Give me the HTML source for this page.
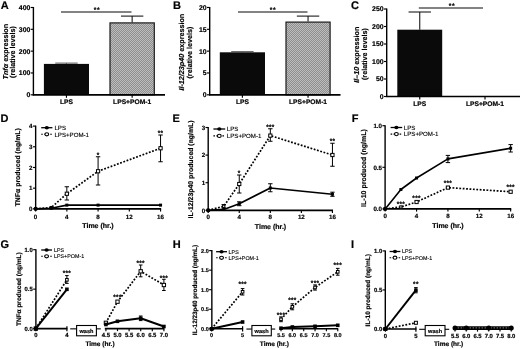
<!DOCTYPE html>
<html lang="en">
<head>
<meta charset="utf-8">
<title>Figure</title>
<style>
html,body{margin:0;padding:0;background:#fff;}
body{width:520px;height:349px;overflow:hidden;}
svg{display:block;font-family:'Liberation Sans', Arial, sans-serif;}
</style>
</head>
<body>
<svg width="520" height="349" viewBox="0 0 520 349" fill="#000" text-rendering="geometricPrecision">
<defs>
<pattern id="hatch" patternUnits="userSpaceOnUse" width="2" height="2">
<rect width="2" height="2" fill="#bdbdbd"/>
<rect x="0" y="1" width="1" height="1" fill="#8e8e8e"/>
<rect x="1" y="0" width="1" height="1" fill="#8e8e8e"/>
</pattern>
</defs>
<rect width="520" height="349" fill="#fff"/>
<text x="0.70" y="8.70" font-size="11" text-anchor="start" font-weight="bold" stroke="#000" stroke-width="0.18">A</text>
<text x="7.80" y="51.65" font-size="7.2" text-anchor="middle" font-weight="bold" stroke="#000" stroke-width="0.18" transform="rotate(-90 7.80 51.65)"><tspan font-style="italic">Tnf&#945;</tspan> expression</text>
<text x="15.20" y="52.05" font-size="7.2" text-anchor="middle" font-weight="bold" stroke="#000" stroke-width="0.18" transform="rotate(-90 15.20 52.05)">(relative levels)</text>
<line x1="66.45" y1="63.90" x2="66.45" y2="63.10" stroke="#666" stroke-width="1.1"/>
<line x1="55.25" y1="63.10" x2="77.65" y2="63.10" stroke="#666" stroke-width="1.1"/>
<rect x="43.90" y="63.90" width="45.10" height="30.90" fill="#0a0a0a"/>
<line x1="66.45" y1="94.80" x2="66.45" y2="97.80" stroke="#000" stroke-width="1.15"/>
<text x="66.45" y="103.50" font-size="6.7" text-anchor="middle" font-weight="bold" stroke="#000" stroke-width="0.18">LPS</text>
<line x1="132.15" y1="22.40" x2="132.15" y2="16.10" stroke="#1a1a1a" stroke-width="1.1"/>
<line x1="120.95" y1="16.10" x2="143.35" y2="16.10" stroke="#1a1a1a" stroke-width="1.1"/>
<rect x="110.00" y="22.90" width="44.30" height="71.90" fill="url(#hatch)" stroke="#1c1c1c" stroke-width="1.2"/>
<line x1="132.15" y1="94.80" x2="132.15" y2="97.80" stroke="#000" stroke-width="1.15"/>
<text x="132.15" y="103.50" font-size="6.7" text-anchor="middle" font-weight="bold" stroke="#000" stroke-width="0.18">LPS+POM-1</text>
<line x1="33.40" y1="7.00" x2="33.40" y2="95.35" stroke="#000" stroke-width="1.4"/>
<line x1="32.70" y1="94.80" x2="165.00" y2="94.80" stroke="#000" stroke-width="1.7"/>
<line x1="30.70" y1="94.80" x2="33.40" y2="94.80" stroke="#000" stroke-width="1.15"/>
<text x="30.30" y="97.28" font-size="6.9" text-anchor="end" font-weight="bold" stroke="#000" stroke-width="0.18">0</text>
<line x1="30.70" y1="72.97" x2="33.40" y2="72.97" stroke="#000" stroke-width="1.15"/>
<text x="30.30" y="75.45" font-size="6.9" text-anchor="end" font-weight="bold" stroke="#000" stroke-width="0.18">100</text>
<line x1="30.70" y1="51.14" x2="33.40" y2="51.14" stroke="#000" stroke-width="1.15"/>
<text x="30.30" y="53.62" font-size="6.9" text-anchor="end" font-weight="bold" stroke="#000" stroke-width="0.18">200</text>
<line x1="30.70" y1="29.31" x2="33.40" y2="29.31" stroke="#000" stroke-width="1.15"/>
<text x="30.30" y="31.79" font-size="6.9" text-anchor="end" font-weight="bold" stroke="#000" stroke-width="0.18">300</text>
<line x1="30.70" y1="7.48" x2="33.40" y2="7.48" stroke="#000" stroke-width="1.15"/>
<text x="30.30" y="9.96" font-size="6.9" text-anchor="end" font-weight="bold" stroke="#000" stroke-width="0.18">400</text>
<line x1="61.00" y1="12.00" x2="131.50" y2="12.00" stroke="#5a5a5a" stroke-width="1.6"/>
<text x="97.10" y="11.94" font-size="6.8" text-anchor="middle" font-weight="bold" letter-spacing="0.6" stroke="#000" stroke-width="0.2">**</text>
<text x="173.00" y="8.70" font-size="11" text-anchor="start" font-weight="bold" stroke="#000" stroke-width="0.18">B</text>
<text x="183.60" y="52.15" font-size="7.2" text-anchor="middle" font-weight="bold" stroke="#000" stroke-width="0.18" transform="rotate(-90 183.60 52.15)"><tspan font-style="italic">Il-12/23p40</tspan> expression</text>
<text x="191.60" y="52.55" font-size="7.2" text-anchor="middle" font-weight="bold" stroke="#000" stroke-width="0.18" transform="rotate(-90 191.60 52.55)">(relative levels)</text>
<line x1="242.40" y1="52.30" x2="242.40" y2="51.60" stroke="#666" stroke-width="1.1"/>
<line x1="231.20" y1="51.60" x2="253.60" y2="51.60" stroke="#666" stroke-width="1.1"/>
<rect x="219.80" y="52.30" width="45.20" height="42.50" fill="#0a0a0a"/>
<line x1="242.40" y1="94.80" x2="242.40" y2="97.80" stroke="#000" stroke-width="1.15"/>
<text x="242.40" y="103.50" font-size="6.7" text-anchor="middle" font-weight="bold" stroke="#000" stroke-width="0.18">LPS</text>
<line x1="308.05" y1="21.60" x2="308.05" y2="16.10" stroke="#1a1a1a" stroke-width="1.1"/>
<line x1="296.85" y1="16.10" x2="319.25" y2="16.10" stroke="#1a1a1a" stroke-width="1.1"/>
<rect x="286.00" y="22.10" width="44.10" height="72.70" fill="url(#hatch)" stroke="#1c1c1c" stroke-width="1.2"/>
<line x1="308.05" y1="94.80" x2="308.05" y2="97.80" stroke="#000" stroke-width="1.15"/>
<text x="308.05" y="103.50" font-size="6.7" text-anchor="middle" font-weight="bold" stroke="#000" stroke-width="0.18">LPS+POM-1</text>
<line x1="209.70" y1="7.00" x2="209.70" y2="95.35" stroke="#000" stroke-width="1.4"/>
<line x1="209.00" y1="94.80" x2="340.50" y2="94.80" stroke="#000" stroke-width="1.7"/>
<line x1="207.00" y1="94.80" x2="209.70" y2="94.80" stroke="#000" stroke-width="1.15"/>
<text x="206.60" y="97.28" font-size="6.9" text-anchor="end" font-weight="bold" stroke="#000" stroke-width="0.18">0</text>
<line x1="207.00" y1="72.97" x2="209.70" y2="72.97" stroke="#000" stroke-width="1.15"/>
<text x="206.60" y="75.45" font-size="6.9" text-anchor="end" font-weight="bold" stroke="#000" stroke-width="0.18">5</text>
<line x1="207.00" y1="51.14" x2="209.70" y2="51.14" stroke="#000" stroke-width="1.15"/>
<text x="206.60" y="53.62" font-size="6.9" text-anchor="end" font-weight="bold" stroke="#000" stroke-width="0.18">10</text>
<line x1="207.00" y1="29.31" x2="209.70" y2="29.31" stroke="#000" stroke-width="1.15"/>
<text x="206.60" y="31.79" font-size="6.9" text-anchor="end" font-weight="bold" stroke="#000" stroke-width="0.18">15</text>
<line x1="207.00" y1="7.48" x2="209.70" y2="7.48" stroke="#000" stroke-width="1.15"/>
<text x="206.60" y="9.96" font-size="6.9" text-anchor="end" font-weight="bold" stroke="#000" stroke-width="0.18">20</text>
<line x1="238.00" y1="12.00" x2="307.50" y2="12.00" stroke="#5a5a5a" stroke-width="1.6"/>
<text x="273.10" y="11.94" font-size="6.8" text-anchor="middle" font-weight="bold" letter-spacing="0.6" stroke="#000" stroke-width="0.2">**</text>
<text x="351.00" y="9.00" font-size="11" text-anchor="start" font-weight="bold" stroke="#000" stroke-width="0.18">C</text>
<text x="359.10" y="54.65" font-size="7.2" text-anchor="middle" font-weight="bold" stroke="#000" stroke-width="0.18" transform="rotate(-90 359.10 54.65)"><tspan font-style="italic">Il&#8211;10</tspan> expression</text>
<text x="367.50" y="54.05" font-size="7.2" text-anchor="middle" font-weight="bold" stroke="#000" stroke-width="0.18" transform="rotate(-90 367.50 54.05)">(relative levels)</text>
<line x1="419.75" y1="29.70" x2="419.75" y2="12.00" stroke="#1a1a1a" stroke-width="1.1"/>
<line x1="408.55" y1="12.00" x2="430.95" y2="12.00" stroke="#1a1a1a" stroke-width="1.1"/>
<rect x="397.30" y="29.70" width="44.90" height="66.80" fill="#0a0a0a"/>
<line x1="419.75" y1="96.50" x2="419.75" y2="99.50" stroke="#000" stroke-width="1.15"/>
<text x="419.75" y="105.60" font-size="6.7" text-anchor="middle" font-weight="bold" stroke="#000" stroke-width="0.18">LPS</text>
<line x1="485.00" y1="96.50" x2="485.00" y2="99.50" stroke="#000" stroke-width="1.15"/>
<text x="485.00" y="105.60" font-size="6.7" text-anchor="middle" font-weight="bold" stroke="#000" stroke-width="0.18">LPS+POM-1</text>
<line x1="386.70" y1="8.50" x2="386.70" y2="97.05" stroke="#000" stroke-width="1.4"/>
<line x1="386.00" y1="96.50" x2="520.00" y2="96.50" stroke="#000" stroke-width="1.7"/>
<line x1="384.00" y1="96.50" x2="386.70" y2="96.50" stroke="#000" stroke-width="1.15"/>
<text x="383.60" y="98.98" font-size="6.9" text-anchor="end" font-weight="bold" stroke="#000" stroke-width="0.18">0</text>
<line x1="384.00" y1="79.00" x2="386.70" y2="79.00" stroke="#000" stroke-width="1.15"/>
<text x="383.60" y="81.48" font-size="6.9" text-anchor="end" font-weight="bold" stroke="#000" stroke-width="0.18">50</text>
<line x1="384.00" y1="61.50" x2="386.70" y2="61.50" stroke="#000" stroke-width="1.15"/>
<text x="383.60" y="63.98" font-size="6.9" text-anchor="end" font-weight="bold" stroke="#000" stroke-width="0.18">100</text>
<line x1="384.00" y1="44.00" x2="386.70" y2="44.00" stroke="#000" stroke-width="1.15"/>
<text x="383.60" y="46.48" font-size="6.9" text-anchor="end" font-weight="bold" stroke="#000" stroke-width="0.18">150</text>
<line x1="384.00" y1="26.50" x2="386.70" y2="26.50" stroke="#000" stroke-width="1.15"/>
<text x="383.60" y="28.98" font-size="6.9" text-anchor="end" font-weight="bold" stroke="#000" stroke-width="0.18">200</text>
<line x1="384.00" y1="9.00" x2="386.70" y2="9.00" stroke="#000" stroke-width="1.15"/>
<text x="383.60" y="11.48" font-size="6.9" text-anchor="end" font-weight="bold" stroke="#000" stroke-width="0.18">250</text>
<line x1="418.80" y1="8.00" x2="483.00" y2="8.00" stroke="#5a5a5a" stroke-width="1.6"/>
<text x="452.10" y="7.84" font-size="6.8" text-anchor="middle" font-weight="bold" letter-spacing="0.6" stroke="#000" stroke-width="0.2">**</text>
<text x="0.50" y="121.70" font-size="11" text-anchor="start" font-weight="bold" stroke="#000" stroke-width="0.18">D</text>
<text x="20.00" y="167.30" font-size="6.9" text-anchor="middle" font-weight="bold" stroke="#000" stroke-width="0.18" transform="rotate(-90 20.00 167.30)">TNF&#945; produced (ng/mL)</text>
<line x1="35.65" y1="125.60" x2="35.65" y2="209.40" stroke="#000" stroke-width="1.4"/>
<line x1="34.95" y1="208.85" x2="161.16" y2="208.85" stroke="#000" stroke-width="1.7"/>
<line x1="32.95" y1="208.85" x2="35.65" y2="208.85" stroke="#000" stroke-width="1.15"/>
<text x="32.55" y="211.08" font-size="6.2" text-anchor="end" font-weight="bold" stroke="#000" stroke-width="0.18">0</text>
<line x1="32.95" y1="188.16" x2="35.65" y2="188.16" stroke="#000" stroke-width="1.15"/>
<text x="32.55" y="190.39" font-size="6.2" text-anchor="end" font-weight="bold" stroke="#000" stroke-width="0.18">1</text>
<line x1="32.95" y1="167.47" x2="35.65" y2="167.47" stroke="#000" stroke-width="1.15"/>
<text x="32.55" y="169.70" font-size="6.2" text-anchor="end" font-weight="bold" stroke="#000" stroke-width="0.18">2</text>
<line x1="32.95" y1="146.78" x2="35.65" y2="146.78" stroke="#000" stroke-width="1.15"/>
<text x="32.55" y="149.01" font-size="6.2" text-anchor="end" font-weight="bold" stroke="#000" stroke-width="0.18">3</text>
<line x1="32.95" y1="126.09" x2="35.65" y2="126.09" stroke="#000" stroke-width="1.15"/>
<text x="32.55" y="128.32" font-size="6.2" text-anchor="end" font-weight="bold" stroke="#000" stroke-width="0.18">4</text>
<line x1="35.60" y1="208.85" x2="35.60" y2="211.55" stroke="#000" stroke-width="1.15"/>
<text x="35.60" y="218.50" font-size="6.2" text-anchor="middle" font-weight="bold" stroke="#000" stroke-width="0.18">0</text>
<line x1="66.84" y1="208.85" x2="66.84" y2="211.55" stroke="#000" stroke-width="1.15"/>
<text x="66.84" y="218.50" font-size="6.2" text-anchor="middle" font-weight="bold" stroke="#000" stroke-width="0.18">4</text>
<line x1="98.08" y1="208.85" x2="98.08" y2="211.55" stroke="#000" stroke-width="1.15"/>
<text x="98.08" y="218.50" font-size="6.2" text-anchor="middle" font-weight="bold" stroke="#000" stroke-width="0.18">8</text>
<line x1="129.32" y1="208.85" x2="129.32" y2="211.55" stroke="#000" stroke-width="1.15"/>
<text x="129.32" y="218.50" font-size="6.2" text-anchor="middle" font-weight="bold" stroke="#000" stroke-width="0.18">12</text>
<line x1="160.56" y1="208.85" x2="160.56" y2="211.55" stroke="#000" stroke-width="1.15"/>
<text x="160.56" y="218.50" font-size="6.2" text-anchor="middle" font-weight="bold" stroke="#000" stroke-width="0.18">16</text>
<text x="98.00" y="227.90" font-size="7.0" text-anchor="middle" font-weight="bold" stroke="#000" stroke-width="0.18">Time (hr.)</text>
<polyline points="35.60,208.85 51.22,207.61 66.84,193.75 98.08,171.25 160.56,148.25" fill="none" stroke="#000" stroke-width="1.7" stroke-linejoin="round" stroke-dasharray="1.8 1.6"/>
<polyline points="35.60,208.85 51.22,208.23 66.84,205.13 98.08,205.13 160.56,205.13" fill="none" stroke="#000" stroke-width="1.6" stroke-linejoin="round"/>
<line x1="66.84" y1="186.75" x2="66.84" y2="200.00" stroke="#000" stroke-width="1.0"/>
<line x1="64.64" y1="186.75" x2="69.04" y2="186.75" stroke="#000" stroke-width="1.0"/>
<line x1="64.64" y1="200.00" x2="69.04" y2="200.00" stroke="#000" stroke-width="1.0"/>
<line x1="98.08" y1="156.75" x2="98.08" y2="185.00" stroke="#000" stroke-width="1.0"/>
<line x1="95.88" y1="156.75" x2="100.28" y2="156.75" stroke="#000" stroke-width="1.0"/>
<line x1="95.88" y1="185.00" x2="100.28" y2="185.00" stroke="#000" stroke-width="1.0"/>
<line x1="160.56" y1="135.00" x2="160.56" y2="161.75" stroke="#000" stroke-width="1.0"/>
<line x1="158.36" y1="135.00" x2="162.76" y2="135.00" stroke="#000" stroke-width="1.0"/>
<line x1="158.36" y1="161.75" x2="162.76" y2="161.75" stroke="#000" stroke-width="1.0"/>
<rect x="50.07" y="206.46" width="2.30" height="2.30" fill="#fff" stroke="#000" stroke-width="1.0"/>
<rect x="65.24" y="192.15" width="3.20" height="3.20" fill="#fff" stroke="#000" stroke-width="1.0"/>
<rect x="96.48" y="169.65" width="3.20" height="3.20" fill="#fff" stroke="#000" stroke-width="1.0"/>
<text x="98.08" y="156.93" font-size="6.4" text-anchor="middle" font-weight="bold" letter-spacing="0.3" stroke="#000" stroke-width="0.2">*</text>
<rect x="158.96" y="146.65" width="3.20" height="3.20" fill="#fff" stroke="#000" stroke-width="1.0"/>
<text x="160.56" y="134.53" font-size="6.4" text-anchor="middle" font-weight="bold" letter-spacing="0.3" stroke="#000" stroke-width="0.2">**</text>
<rect x="34.10" y="207.35" width="3.00" height="3.00" fill="#000"/>
<rect x="49.72" y="206.73" width="3.00" height="3.00" fill="#000"/>
<rect x="65.34" y="203.63" width="3.00" height="3.00" fill="#000"/>
<rect x="96.58" y="203.63" width="3.00" height="3.00" fill="#000"/>
<rect x="159.06" y="203.63" width="3.00" height="3.00" fill="#000"/>
<circle cx="35.65" cy="208.85" r="2.1" fill="#000"/>
<line x1="41.20" y1="127.70" x2="52.40" y2="127.70" stroke="#000" stroke-width="1.3"/>
<ellipse cx="46.80" cy="127.70" rx="2.1" ry="1.7" fill="#000"/>
<text x="54.40" y="129.91" font-size="6.15" text-anchor="start" stroke="#000" stroke-width="0.12">LPS</text>
<line x1="41.20" y1="134.30" x2="52.40" y2="134.30" stroke="#000" stroke-width="1.1" stroke-dasharray="1.6 1.4"/>
<ellipse cx="46.80" cy="134.30" rx="1.9" ry="1.6" fill="#fff" stroke="#000" stroke-width="1.1"/>
<text x="54.40" y="136.51" font-size="6.15" text-anchor="start" stroke="#000" stroke-width="0.12">LPS+POM-1</text>
<text x="172.50" y="122.10" font-size="11" text-anchor="start" font-weight="bold" stroke="#000" stroke-width="0.18">E</text>
<text x="192.90" y="169.40" font-size="6.9" text-anchor="middle" font-weight="bold" stroke="#000" stroke-width="0.18" transform="rotate(-90 192.90 169.40)">IL-12/23p40 produced (ng/mL)</text>
<line x1="208.20" y1="127.00" x2="208.20" y2="210.85" stroke="#000" stroke-width="1.4"/>
<line x1="207.50" y1="210.30" x2="333.04" y2="210.30" stroke="#000" stroke-width="1.7"/>
<line x1="205.50" y1="210.30" x2="208.20" y2="210.30" stroke="#000" stroke-width="1.15"/>
<text x="205.10" y="212.53" font-size="6.2" text-anchor="end" font-weight="bold" stroke="#000" stroke-width="0.18">0</text>
<line x1="205.50" y1="182.70" x2="208.20" y2="182.70" stroke="#000" stroke-width="1.15"/>
<text x="205.10" y="184.93" font-size="6.2" text-anchor="end" font-weight="bold" stroke="#000" stroke-width="0.18">1</text>
<line x1="205.50" y1="155.10" x2="208.20" y2="155.10" stroke="#000" stroke-width="1.15"/>
<text x="205.10" y="157.33" font-size="6.2" text-anchor="end" font-weight="bold" stroke="#000" stroke-width="0.18">2</text>
<line x1="205.50" y1="127.50" x2="208.20" y2="127.50" stroke="#000" stroke-width="1.15"/>
<text x="205.10" y="129.73" font-size="6.2" text-anchor="end" font-weight="bold" stroke="#000" stroke-width="0.18">3</text>
<line x1="208.20" y1="210.30" x2="208.20" y2="213.00" stroke="#000" stroke-width="1.15"/>
<text x="208.20" y="219.00" font-size="6.2" text-anchor="middle" font-weight="bold" stroke="#000" stroke-width="0.18">0</text>
<line x1="239.26" y1="210.30" x2="239.26" y2="213.00" stroke="#000" stroke-width="1.15"/>
<text x="239.26" y="219.00" font-size="6.2" text-anchor="middle" font-weight="bold" stroke="#000" stroke-width="0.18">4</text>
<line x1="270.32" y1="210.30" x2="270.32" y2="213.00" stroke="#000" stroke-width="1.15"/>
<text x="270.32" y="219.00" font-size="6.2" text-anchor="middle" font-weight="bold" stroke="#000" stroke-width="0.18">8</text>
<line x1="301.38" y1="210.30" x2="301.38" y2="213.00" stroke="#000" stroke-width="1.15"/>
<text x="301.38" y="219.00" font-size="6.2" text-anchor="middle" font-weight="bold" stroke="#000" stroke-width="0.18">12</text>
<line x1="332.44" y1="210.30" x2="332.44" y2="213.00" stroke="#000" stroke-width="1.15"/>
<text x="332.44" y="219.00" font-size="6.2" text-anchor="middle" font-weight="bold" stroke="#000" stroke-width="0.18">16</text>
<text x="270.50" y="228.70" font-size="7.0" text-anchor="middle" font-weight="bold" stroke="#000" stroke-width="0.18">Time (hr.)</text>
<polyline points="208.20,210.30 223.73,206.25 239.26,184.00 270.32,135.60 332.44,155.00" fill="none" stroke="#000" stroke-width="1.7" stroke-linejoin="round" stroke-dasharray="1.8 1.6"/>
<polyline points="208.20,210.30 223.73,209.47 239.26,203.75 270.32,188.00 332.44,194.25" fill="none" stroke="#000" stroke-width="1.7" stroke-linejoin="round"/>
<line x1="223.73" y1="204.60" x2="223.73" y2="207.90" stroke="#000" stroke-width="1.0"/>
<line x1="221.53" y1="204.60" x2="225.93" y2="204.60" stroke="#000" stroke-width="1.0"/>
<line x1="221.53" y1="207.90" x2="225.93" y2="207.90" stroke="#000" stroke-width="1.0"/>
<line x1="239.26" y1="175.00" x2="239.26" y2="193.00" stroke="#000" stroke-width="1.0"/>
<line x1="237.06" y1="175.00" x2="241.46" y2="175.00" stroke="#000" stroke-width="1.0"/>
<line x1="237.06" y1="193.00" x2="241.46" y2="193.00" stroke="#000" stroke-width="1.0"/>
<line x1="270.32" y1="128.75" x2="270.32" y2="141.25" stroke="#000" stroke-width="1.0"/>
<line x1="268.12" y1="128.75" x2="272.52" y2="128.75" stroke="#000" stroke-width="1.0"/>
<line x1="268.12" y1="141.25" x2="272.52" y2="141.25" stroke="#000" stroke-width="1.0"/>
<line x1="332.44" y1="143.25" x2="332.44" y2="166.25" stroke="#000" stroke-width="1.0"/>
<line x1="330.24" y1="143.25" x2="334.64" y2="143.25" stroke="#000" stroke-width="1.0"/>
<line x1="330.24" y1="166.25" x2="334.64" y2="166.25" stroke="#000" stroke-width="1.0"/>
<line x1="239.26" y1="201.80" x2="239.26" y2="205.70" stroke="#000" stroke-width="1.0"/>
<line x1="237.06" y1="201.80" x2="241.46" y2="201.80" stroke="#000" stroke-width="1.0"/>
<line x1="237.06" y1="205.70" x2="241.46" y2="205.70" stroke="#000" stroke-width="1.0"/>
<line x1="270.32" y1="183.75" x2="270.32" y2="191.75" stroke="#000" stroke-width="1.0"/>
<line x1="268.12" y1="183.75" x2="272.52" y2="183.75" stroke="#000" stroke-width="1.0"/>
<line x1="268.12" y1="191.75" x2="272.52" y2="191.75" stroke="#000" stroke-width="1.0"/>
<line x1="332.44" y1="192.20" x2="332.44" y2="196.30" stroke="#000" stroke-width="1.0"/>
<line x1="330.24" y1="192.20" x2="334.64" y2="192.20" stroke="#000" stroke-width="1.0"/>
<line x1="330.24" y1="196.30" x2="334.64" y2="196.30" stroke="#000" stroke-width="1.0"/>
<rect x="222.58" y="205.10" width="2.30" height="2.30" fill="#fff" stroke="#000" stroke-width="1.0"/>
<rect x="237.66" y="182.40" width="3.20" height="3.20" fill="#fff" stroke="#000" stroke-width="1.0"/>
<text x="239.26" y="175.13" font-size="6.4" text-anchor="middle" font-weight="bold" letter-spacing="0.3" stroke="#000" stroke-width="0.2">*</text>
<rect x="268.72" y="134.00" width="3.20" height="3.20" fill="#fff" stroke="#000" stroke-width="1.0"/>
<text x="270.32" y="129.13" font-size="6.4" text-anchor="middle" font-weight="bold" letter-spacing="0.3" stroke="#000" stroke-width="0.2">***</text>
<rect x="330.84" y="153.40" width="3.20" height="3.20" fill="#fff" stroke="#000" stroke-width="1.0"/>
<text x="332.44" y="143.13" font-size="6.4" text-anchor="middle" font-weight="bold" letter-spacing="0.3" stroke="#000" stroke-width="0.2">**</text>
<rect x="206.70" y="208.80" width="3.00" height="3.00" fill="#000"/>
<rect x="222.23" y="207.97" width="3.00" height="3.00" fill="#000"/>
<rect x="237.76" y="202.25" width="3.00" height="3.00" fill="#000"/>
<rect x="268.82" y="186.50" width="3.00" height="3.00" fill="#000"/>
<rect x="330.94" y="192.75" width="3.00" height="3.00" fill="#000"/>
<circle cx="208.20" cy="210.30" r="2.1" fill="#000"/>
<line x1="213.40" y1="129.00" x2="225.20" y2="129.00" stroke="#000" stroke-width="1.3"/>
<ellipse cx="219.30" cy="129.00" rx="2.1" ry="1.7" fill="#000"/>
<text x="226.80" y="131.21" font-size="6.15" text-anchor="start" stroke="#000" stroke-width="0.12">LPS</text>
<line x1="213.40" y1="135.90" x2="225.20" y2="135.90" stroke="#000" stroke-width="1.1" stroke-dasharray="1.6 1.4"/>
<ellipse cx="219.30" cy="135.90" rx="1.9" ry="1.6" fill="#fff" stroke="#000" stroke-width="1.1"/>
<text x="226.80" y="138.11" font-size="6.15" text-anchor="start" stroke="#000" stroke-width="0.12">LPS+POM-1</text>
<text x="351.80" y="122.20" font-size="11" text-anchor="start" font-weight="bold" stroke="#000" stroke-width="0.18">F</text>
<text x="365.80" y="168.00" font-size="7.0" text-anchor="middle" font-weight="bold" stroke="#000" stroke-width="0.18" transform="rotate(-90 365.80 168.00)">IL-10 produced (ng/mL)</text>
<line x1="385.10" y1="125.20" x2="385.10" y2="209.45" stroke="#000" stroke-width="1.4"/>
<line x1="384.40" y1="208.90" x2="511.24" y2="208.90" stroke="#000" stroke-width="1.7"/>
<line x1="382.40" y1="208.90" x2="385.10" y2="208.90" stroke="#000" stroke-width="1.15"/>
<text x="382.00" y="211.13" font-size="6.2" text-anchor="end" font-weight="bold" stroke="#000" stroke-width="0.18">0.0</text>
<line x1="382.40" y1="167.30" x2="385.10" y2="167.30" stroke="#000" stroke-width="1.15"/>
<text x="382.00" y="169.53" font-size="6.2" text-anchor="end" font-weight="bold" stroke="#000" stroke-width="0.18">0.5</text>
<line x1="382.40" y1="125.70" x2="385.10" y2="125.70" stroke="#000" stroke-width="1.15"/>
<text x="382.00" y="127.93" font-size="6.2" text-anchor="end" font-weight="bold" stroke="#000" stroke-width="0.18">1.0</text>
<line x1="385.20" y1="208.90" x2="385.20" y2="211.60" stroke="#000" stroke-width="1.15"/>
<text x="385.20" y="217.90" font-size="6.2" text-anchor="middle" font-weight="bold" stroke="#000" stroke-width="0.18">0</text>
<line x1="416.56" y1="208.90" x2="416.56" y2="211.60" stroke="#000" stroke-width="1.15"/>
<text x="416.56" y="217.90" font-size="6.2" text-anchor="middle" font-weight="bold" stroke="#000" stroke-width="0.18">4</text>
<line x1="447.92" y1="208.90" x2="447.92" y2="211.60" stroke="#000" stroke-width="1.15"/>
<text x="447.92" y="217.90" font-size="6.2" text-anchor="middle" font-weight="bold" stroke="#000" stroke-width="0.18">8</text>
<line x1="479.28" y1="208.90" x2="479.28" y2="211.60" stroke="#000" stroke-width="1.15"/>
<text x="479.28" y="217.90" font-size="6.2" text-anchor="middle" font-weight="bold" stroke="#000" stroke-width="0.18">12</text>
<line x1="510.64" y1="208.90" x2="510.64" y2="211.60" stroke="#000" stroke-width="1.15"/>
<text x="510.64" y="217.90" font-size="6.2" text-anchor="middle" font-weight="bold" stroke="#000" stroke-width="0.18">16</text>
<text x="448.00" y="227.90" font-size="7.0" text-anchor="middle" font-weight="bold" stroke="#000" stroke-width="0.18">Time (hr.)</text>
<polyline points="385.20,208.90 400.88,207.00 416.56,202.00 447.92,187.60 510.64,191.75" fill="none" stroke="#000" stroke-width="1.7" stroke-linejoin="round" stroke-dasharray="1.8 1.6"/>
<polyline points="385.20,208.90 400.88,189.50 416.56,178.00 447.92,158.90 510.64,148.25" fill="none" stroke="#000" stroke-width="1.6" stroke-linejoin="round"/>
<line x1="447.92" y1="155.40" x2="447.92" y2="162.60" stroke="#000" stroke-width="1.0"/>
<line x1="445.72" y1="155.40" x2="450.12" y2="155.40" stroke="#000" stroke-width="1.0"/>
<line x1="445.72" y1="162.60" x2="450.12" y2="162.60" stroke="#000" stroke-width="1.0"/>
<line x1="510.64" y1="144.60" x2="510.64" y2="152.00" stroke="#000" stroke-width="1.0"/>
<line x1="508.44" y1="144.60" x2="512.84" y2="144.60" stroke="#000" stroke-width="1.0"/>
<line x1="508.44" y1="152.00" x2="512.84" y2="152.00" stroke="#000" stroke-width="1.0"/>
<rect x="399.73" y="205.85" width="2.30" height="2.30" fill="#fff" stroke="#000" stroke-width="1.0"/>
<text x="400.88" y="206.33" font-size="6.4" text-anchor="middle" font-weight="bold" letter-spacing="0.3" stroke="#000" stroke-width="0.2">***</text>
<rect x="414.96" y="200.40" width="3.20" height="3.20" fill="#fff" stroke="#000" stroke-width="1.0"/>
<text x="416.56" y="200.13" font-size="6.4" text-anchor="middle" font-weight="bold" letter-spacing="0.3" stroke="#000" stroke-width="0.2">***</text>
<rect x="446.32" y="186.00" width="3.20" height="3.20" fill="#fff" stroke="#000" stroke-width="1.0"/>
<text x="447.92" y="185.33" font-size="6.4" text-anchor="middle" font-weight="bold" letter-spacing="0.3" stroke="#000" stroke-width="0.2">***</text>
<rect x="509.04" y="190.15" width="3.20" height="3.20" fill="#fff" stroke="#000" stroke-width="1.0"/>
<text x="510.64" y="189.13" font-size="6.4" text-anchor="middle" font-weight="bold" letter-spacing="0.3" stroke="#000" stroke-width="0.2">***</text>
<rect x="383.70" y="207.40" width="3.00" height="3.00" fill="#000"/>
<rect x="399.38" y="188.00" width="3.00" height="3.00" fill="#000"/>
<rect x="415.06" y="176.50" width="3.00" height="3.00" fill="#000"/>
<rect x="446.42" y="157.40" width="3.00" height="3.00" fill="#000"/>
<rect x="509.14" y="146.75" width="3.00" height="3.00" fill="#000"/>
<circle cx="385.10" cy="208.90" r="2.1" fill="#000"/>
<line x1="390.60" y1="127.50" x2="402.20" y2="127.50" stroke="#000" stroke-width="1.3"/>
<ellipse cx="396.40" cy="127.50" rx="2.1" ry="1.7" fill="#000"/>
<text x="403.80" y="129.71" font-size="6.15" text-anchor="start" stroke="#000" stroke-width="0.12">LPS</text>
<line x1="390.60" y1="134.10" x2="402.20" y2="134.10" stroke="#000" stroke-width="1.1" stroke-dasharray="1.6 1.4"/>
<ellipse cx="396.40" cy="134.10" rx="1.9" ry="1.6" fill="#fff" stroke="#000" stroke-width="1.1"/>
<text x="403.80" y="136.31" font-size="6.15" text-anchor="start" stroke="#000" stroke-width="0.12">LPS+POM-1</text>
<text x="0.60" y="247.80" font-size="11" text-anchor="start" font-weight="bold" stroke="#000" stroke-width="0.18">G</text>
<text x="21.20" y="289.20" font-size="6.5" text-anchor="middle" font-weight="bold" stroke="#000" stroke-width="0.18" transform="rotate(-90 21.20 289.20)">TNF&#945; produced (ng/mL)</text>
<line x1="35.90" y1="249.20" x2="35.90" y2="329.10" stroke="#000" stroke-width="1.4"/>
<line x1="35.20" y1="328.55" x2="67.40" y2="328.55" stroke="#000" stroke-width="1.7"/>
<line x1="33.20" y1="328.60" x2="35.90" y2="328.60" stroke="#000" stroke-width="1.15"/>
<text x="32.80" y="330.72" font-size="5.9" text-anchor="end" font-weight="bold" stroke="#000" stroke-width="0.18">0.0</text>
<line x1="33.20" y1="289.15" x2="35.90" y2="289.15" stroke="#000" stroke-width="1.15"/>
<text x="32.80" y="291.27" font-size="5.9" text-anchor="end" font-weight="bold" stroke="#000" stroke-width="0.18">0.5</text>
<line x1="33.20" y1="249.70" x2="35.90" y2="249.70" stroke="#000" stroke-width="1.15"/>
<text x="32.80" y="251.82" font-size="5.9" text-anchor="end" font-weight="bold" stroke="#000" stroke-width="0.18">1.0</text>
<line x1="35.80" y1="328.55" x2="35.80" y2="331.25" stroke="#000" stroke-width="1.15"/>
<text x="35.80" y="337.40" font-size="5.9" text-anchor="middle" font-weight="bold" stroke="#000" stroke-width="0.18">0</text>
<line x1="66.90" y1="326.15" x2="66.90" y2="331.35" stroke="#000" stroke-width="1.2"/>
<text x="66.90" y="337.40" font-size="5.9" text-anchor="middle" font-weight="bold" stroke="#000" stroke-width="0.18">4</text>
<line x1="70.20" y1="328.85" x2="76.60" y2="328.85" stroke="#000" stroke-width="1.1"/>
<line x1="96.40" y1="328.85" x2="100.80" y2="328.85" stroke="#000" stroke-width="1.1"/>
<rect x="76.60" y="325.50" width="19.80" height="10.30" fill="#fff" stroke="#000" stroke-width="1.1"/>
<text x="86.50" y="332.55" font-size="5.6" text-anchor="middle" font-weight="bold" stroke="#000" stroke-width="0.18">wash</text>
<line x1="104.80" y1="328.55" x2="164.40" y2="328.55" stroke="#000" stroke-width="1.7"/>
<line x1="105.90" y1="328.55" x2="105.90" y2="331.15" stroke="#000" stroke-width="1.15"/>
<text x="105.90" y="337.40" font-size="5.9" text-anchor="middle" font-weight="bold" stroke="#000" stroke-width="0.18">4.5</text>
<line x1="117.50" y1="328.55" x2="117.50" y2="331.15" stroke="#000" stroke-width="1.15"/>
<text x="117.50" y="337.40" font-size="5.9" text-anchor="middle" font-weight="bold" stroke="#000" stroke-width="0.18">5.0</text>
<line x1="129.10" y1="328.55" x2="129.10" y2="331.15" stroke="#000" stroke-width="1.15"/>
<text x="129.10" y="337.40" font-size="5.9" text-anchor="middle" font-weight="bold" stroke="#000" stroke-width="0.18">5.5</text>
<line x1="140.70" y1="328.55" x2="140.70" y2="331.15" stroke="#000" stroke-width="1.15"/>
<text x="140.70" y="337.40" font-size="5.9" text-anchor="middle" font-weight="bold" stroke="#000" stroke-width="0.18">6.0</text>
<line x1="152.30" y1="328.55" x2="152.30" y2="331.15" stroke="#000" stroke-width="1.15"/>
<text x="152.30" y="337.40" font-size="5.9" text-anchor="middle" font-weight="bold" stroke="#000" stroke-width="0.18">6.5</text>
<line x1="163.90" y1="328.55" x2="163.90" y2="331.15" stroke="#000" stroke-width="1.15"/>
<text x="163.90" y="337.40" font-size="5.9" text-anchor="middle" font-weight="bold" stroke="#000" stroke-width="0.18">7.0</text>
<text x="100.00" y="345.60" font-size="6.5" text-anchor="middle" font-weight="bold" stroke="#000" stroke-width="0.18">Time (hr.)</text>
<polyline points="35.80,328.60 66.90,279.80" fill="none" stroke="#000" stroke-width="1.7" stroke-linejoin="round" stroke-dasharray="1.8 1.6"/>
<polyline points="35.80,328.60 66.90,289.30" fill="none" stroke="#000" stroke-width="2.0" stroke-linejoin="round"/>
<line x1="66.90" y1="275.60" x2="66.90" y2="283.40" stroke="#000" stroke-width="1.0"/>
<line x1="65.10" y1="275.60" x2="68.70" y2="275.60" stroke="#000" stroke-width="1.0"/>
<line x1="65.10" y1="283.40" x2="68.70" y2="283.40" stroke="#000" stroke-width="1.0"/>
<rect x="34.15" y="326.95" width="3.30" height="3.30" fill="#fff" stroke="#000" stroke-width="1.0"/>
<rect x="65.60" y="278.50" width="2.60" height="2.60" fill="#fff" stroke="#000" stroke-width="1.0"/>
<text x="66.90" y="275.23" font-size="6.4" text-anchor="middle" font-weight="bold" letter-spacing="0.3" stroke="#000" stroke-width="0.2">***</text>
<rect x="34.00" y="326.80" width="3.60" height="3.60" fill="#000"/>
<rect x="65.10" y="287.50" width="3.60" height="3.60" fill="#000"/>
<polyline points="105.90,322.80 117.50,301.70 140.70,271.30 163.90,285.00" fill="none" stroke="#000" stroke-width="1.7" stroke-linejoin="round" stroke-dasharray="1.8 1.6"/>
<polyline points="105.90,324.50 117.50,321.30 140.70,318.30 163.90,326.50" fill="none" stroke="#000" stroke-width="2.0" stroke-linejoin="round"/>
<line x1="140.70" y1="265.00" x2="140.70" y2="276.80" stroke="#000" stroke-width="1.0"/>
<line x1="138.90" y1="265.00" x2="142.50" y2="265.00" stroke="#000" stroke-width="1.0"/>
<line x1="138.90" y1="276.80" x2="142.50" y2="276.80" stroke="#000" stroke-width="1.0"/>
<line x1="163.90" y1="279.30" x2="163.90" y2="290.50" stroke="#000" stroke-width="1.0"/>
<line x1="162.10" y1="279.30" x2="165.70" y2="279.30" stroke="#000" stroke-width="1.0"/>
<line x1="162.10" y1="290.50" x2="165.70" y2="290.50" stroke="#000" stroke-width="1.0"/>
<line x1="140.70" y1="316.00" x2="140.70" y2="320.60" stroke="#000" stroke-width="1.0"/>
<line x1="138.90" y1="316.00" x2="142.50" y2="316.00" stroke="#000" stroke-width="1.0"/>
<line x1="138.90" y1="320.60" x2="142.50" y2="320.60" stroke="#000" stroke-width="1.0"/>
<rect x="104.25" y="321.15" width="3.30" height="3.30" fill="#fff" stroke="#000" stroke-width="1.0"/>
<rect x="115.85" y="300.05" width="3.30" height="3.30" fill="#fff" stroke="#000" stroke-width="1.0"/>
<text x="117.50" y="298.93" font-size="6.4" text-anchor="middle" font-weight="bold" letter-spacing="0.3" stroke="#000" stroke-width="0.2">***</text>
<rect x="139.05" y="269.65" width="3.30" height="3.30" fill="#fff" stroke="#000" stroke-width="1.0"/>
<text x="140.70" y="264.93" font-size="6.4" text-anchor="middle" font-weight="bold" letter-spacing="0.3" stroke="#000" stroke-width="0.2">***</text>
<rect x="162.25" y="283.35" width="3.30" height="3.30" fill="#fff" stroke="#000" stroke-width="1.0"/>
<text x="163.90" y="279.73" font-size="6.4" text-anchor="middle" font-weight="bold" letter-spacing="0.3" stroke="#000" stroke-width="0.2">***</text>
<rect x="104.10" y="322.70" width="3.60" height="3.60" fill="#000"/>
<rect x="115.70" y="319.50" width="3.60" height="3.60" fill="#000"/>
<rect x="138.90" y="316.50" width="3.60" height="3.60" fill="#000"/>
<rect x="162.10" y="324.70" width="3.60" height="3.60" fill="#000"/>
<circle cx="35.90" cy="328.55" r="2.1" fill="#000"/>
<line x1="41.20" y1="250.00" x2="52.00" y2="250.00" stroke="#000" stroke-width="1.3"/>
<ellipse cx="46.60" cy="250.00" rx="2.1" ry="1.7" fill="#000"/>
<text x="54.00" y="251.93" font-size="5.35" text-anchor="start" stroke="#000" stroke-width="0.12">LPS</text>
<line x1="41.20" y1="256.30" x2="52.00" y2="256.30" stroke="#000" stroke-width="1.1" stroke-dasharray="1.6 1.4"/>
<ellipse cx="46.60" cy="256.30" rx="1.9" ry="1.6" fill="#fff" stroke="#000" stroke-width="1.1"/>
<text x="54.00" y="258.23" font-size="5.35" text-anchor="start" stroke="#000" stroke-width="0.12">LPS+POM-1</text>
<text x="172.80" y="247.80" font-size="11" text-anchor="start" font-weight="bold" stroke="#000" stroke-width="0.18">H</text>
<text x="197.10" y="290.00" font-size="6.35" text-anchor="middle" font-weight="bold" stroke="#000" stroke-width="0.18" transform="rotate(-90 197.10 290.00)">IL-12/23p40 produced (ng/mL)</text>
<line x1="211.85" y1="250.10" x2="211.85" y2="329.30" stroke="#000" stroke-width="1.4"/>
<line x1="211.15" y1="328.75" x2="243.10" y2="328.75" stroke="#000" stroke-width="1.7"/>
<line x1="209.15" y1="328.80" x2="211.85" y2="328.80" stroke="#000" stroke-width="1.15"/>
<text x="208.75" y="330.78" font-size="5.5" text-anchor="end" font-weight="bold" stroke="#000" stroke-width="0.18">0.0</text>
<line x1="209.15" y1="309.25" x2="211.85" y2="309.25" stroke="#000" stroke-width="1.15"/>
<text x="208.75" y="311.23" font-size="5.5" text-anchor="end" font-weight="bold" stroke="#000" stroke-width="0.18">0.5</text>
<line x1="209.15" y1="289.70" x2="211.85" y2="289.70" stroke="#000" stroke-width="1.15"/>
<text x="208.75" y="291.68" font-size="5.5" text-anchor="end" font-weight="bold" stroke="#000" stroke-width="0.18">1.0</text>
<line x1="209.15" y1="270.15" x2="211.85" y2="270.15" stroke="#000" stroke-width="1.15"/>
<text x="208.75" y="272.13" font-size="5.5" text-anchor="end" font-weight="bold" stroke="#000" stroke-width="0.18">1.5</text>
<line x1="209.15" y1="250.60" x2="211.85" y2="250.60" stroke="#000" stroke-width="1.15"/>
<text x="208.75" y="252.58" font-size="5.5" text-anchor="end" font-weight="bold" stroke="#000" stroke-width="0.18">2.0</text>
<line x1="211.60" y1="328.75" x2="211.60" y2="331.45" stroke="#000" stroke-width="1.15"/>
<text x="211.60" y="337.10" font-size="5.5" text-anchor="middle" font-weight="bold" stroke="#000" stroke-width="0.18">0</text>
<line x1="242.60" y1="326.35" x2="242.60" y2="331.55" stroke="#000" stroke-width="1.2"/>
<text x="242.60" y="337.10" font-size="5.5" text-anchor="middle" font-weight="bold" stroke="#000" stroke-width="0.18">5</text>
<line x1="246.40" y1="329.05" x2="251.90" y2="329.05" stroke="#000" stroke-width="1.1"/>
<line x1="271.30" y1="329.05" x2="275.20" y2="329.05" stroke="#000" stroke-width="1.1"/>
<rect x="251.90" y="325.50" width="19.40" height="10.30" fill="#fff" stroke="#000" stroke-width="1.1"/>
<text x="261.60" y="332.55" font-size="5.6" text-anchor="middle" font-weight="bold" stroke="#000" stroke-width="0.18">wash</text>
<line x1="279.60" y1="328.75" x2="338.20" y2="328.75" stroke="#000" stroke-width="1.7"/>
<line x1="281.00" y1="328.75" x2="281.00" y2="331.35" stroke="#000" stroke-width="1.15"/>
<text x="281.00" y="337.10" font-size="5.5" text-anchor="middle" font-weight="bold" stroke="#000" stroke-width="0.18">5.5</text>
<line x1="292.35" y1="328.75" x2="292.35" y2="331.35" stroke="#000" stroke-width="1.15"/>
<text x="292.35" y="337.10" font-size="5.5" text-anchor="middle" font-weight="bold" stroke="#000" stroke-width="0.18">6.0</text>
<line x1="303.70" y1="328.75" x2="303.70" y2="331.35" stroke="#000" stroke-width="1.15"/>
<text x="303.70" y="337.10" font-size="5.5" text-anchor="middle" font-weight="bold" stroke="#000" stroke-width="0.18">6.5</text>
<line x1="315.05" y1="328.75" x2="315.05" y2="331.35" stroke="#000" stroke-width="1.15"/>
<text x="315.05" y="337.10" font-size="5.5" text-anchor="middle" font-weight="bold" stroke="#000" stroke-width="0.18">7.0</text>
<line x1="326.40" y1="328.75" x2="326.40" y2="331.35" stroke="#000" stroke-width="1.15"/>
<text x="326.40" y="337.10" font-size="5.5" text-anchor="middle" font-weight="bold" stroke="#000" stroke-width="0.18">7.5</text>
<line x1="337.75" y1="328.75" x2="337.75" y2="331.35" stroke="#000" stroke-width="1.15"/>
<text x="337.75" y="337.10" font-size="5.5" text-anchor="middle" font-weight="bold" stroke="#000" stroke-width="0.18">8.0</text>
<text x="274.40" y="345.60" font-size="6.5" text-anchor="middle" font-weight="bold" stroke="#000" stroke-width="0.18">Time (hr.)</text>
<polyline points="211.60,328.80 242.60,291.80" fill="none" stroke="#000" stroke-width="1.7" stroke-linejoin="round" stroke-dasharray="1.8 1.6"/>
<polyline points="211.60,328.80 242.60,322.00" fill="none" stroke="#000" stroke-width="2.0" stroke-linejoin="round"/>
<line x1="242.60" y1="288.60" x2="242.60" y2="295.00" stroke="#000" stroke-width="1.0"/>
<line x1="240.80" y1="288.60" x2="244.40" y2="288.60" stroke="#000" stroke-width="1.0"/>
<line x1="240.80" y1="295.00" x2="244.40" y2="295.00" stroke="#000" stroke-width="1.0"/>
<rect x="210.30" y="327.50" width="2.60" height="2.60" fill="#fff" stroke="#000" stroke-width="1.0"/>
<rect x="241.30" y="290.50" width="2.60" height="2.60" fill="#fff" stroke="#000" stroke-width="1.0"/>
<text x="242.60" y="286.33" font-size="6.4" text-anchor="middle" font-weight="bold" letter-spacing="0.3" stroke="#000" stroke-width="0.2">***</text>
<rect x="209.80" y="327.00" width="3.60" height="3.60" fill="#000"/>
<rect x="240.80" y="320.20" width="3.60" height="3.60" fill="#000"/>
<polyline points="281.00,319.30 292.35,306.80 315.05,287.50 337.75,271.80" fill="none" stroke="#000" stroke-width="1.7" stroke-linejoin="round" stroke-dasharray="1.8 1.6"/>
<polyline points="281.00,328.20 292.35,327.00 315.05,326.30 337.75,325.30" fill="none" stroke="#000" stroke-width="2.0" stroke-linejoin="round"/>
<line x1="281.00" y1="316.90" x2="281.00" y2="321.70" stroke="#000" stroke-width="1.0"/>
<line x1="279.20" y1="316.90" x2="282.80" y2="316.90" stroke="#000" stroke-width="1.0"/>
<line x1="279.20" y1="321.70" x2="282.80" y2="321.70" stroke="#000" stroke-width="1.0"/>
<line x1="292.35" y1="303.80" x2="292.35" y2="309.80" stroke="#000" stroke-width="1.0"/>
<line x1="290.55" y1="303.80" x2="294.15" y2="303.80" stroke="#000" stroke-width="1.0"/>
<line x1="290.55" y1="309.80" x2="294.15" y2="309.80" stroke="#000" stroke-width="1.0"/>
<line x1="315.05" y1="284.90" x2="315.05" y2="290.10" stroke="#000" stroke-width="1.0"/>
<line x1="313.25" y1="284.90" x2="316.85" y2="284.90" stroke="#000" stroke-width="1.0"/>
<line x1="313.25" y1="290.10" x2="316.85" y2="290.10" stroke="#000" stroke-width="1.0"/>
<line x1="337.75" y1="268.40" x2="337.75" y2="275.20" stroke="#000" stroke-width="1.0"/>
<line x1="335.95" y1="268.40" x2="339.55" y2="268.40" stroke="#000" stroke-width="1.0"/>
<line x1="335.95" y1="275.20" x2="339.55" y2="275.20" stroke="#000" stroke-width="1.0"/>
<rect x="279.70" y="318.00" width="2.60" height="2.60" fill="#fff" stroke="#000" stroke-width="1.0"/>
<text x="281.00" y="316.53" font-size="6.4" text-anchor="middle" font-weight="bold" letter-spacing="0.3" stroke="#000" stroke-width="0.2">***</text>
<rect x="291.05" y="305.50" width="2.60" height="2.60" fill="#fff" stroke="#000" stroke-width="1.0"/>
<text x="292.35" y="302.33" font-size="6.4" text-anchor="middle" font-weight="bold" letter-spacing="0.3" stroke="#000" stroke-width="0.2">***</text>
<rect x="313.75" y="286.20" width="2.60" height="2.60" fill="#fff" stroke="#000" stroke-width="1.0"/>
<text x="315.05" y="284.93" font-size="6.4" text-anchor="middle" font-weight="bold" letter-spacing="0.3" stroke="#000" stroke-width="0.2">***</text>
<rect x="336.45" y="270.50" width="2.60" height="2.60" fill="#fff" stroke="#000" stroke-width="1.0"/>
<text x="337.75" y="266.93" font-size="6.4" text-anchor="middle" font-weight="bold" letter-spacing="0.3" stroke="#000" stroke-width="0.2">***</text>
<rect x="279.20" y="326.40" width="3.60" height="3.60" fill="#000"/>
<rect x="290.55" y="325.20" width="3.60" height="3.60" fill="#000"/>
<rect x="313.25" y="324.50" width="3.60" height="3.60" fill="#000"/>
<rect x="335.95" y="323.50" width="3.60" height="3.60" fill="#000"/>
<circle cx="211.85" cy="328.75" r="2.1" fill="#000"/>
<line x1="216.10" y1="251.70" x2="227.00" y2="251.70" stroke="#000" stroke-width="1.3"/>
<ellipse cx="221.55" cy="251.70" rx="2.1" ry="1.7" fill="#000"/>
<text x="228.60" y="253.63" font-size="5.35" text-anchor="start" stroke="#000" stroke-width="0.12">LPS</text>
<line x1="216.10" y1="257.80" x2="227.00" y2="257.80" stroke="#000" stroke-width="1.1" stroke-dasharray="1.6 1.4"/>
<ellipse cx="221.55" cy="257.80" rx="1.9" ry="1.6" fill="#fff" stroke="#000" stroke-width="1.1"/>
<text x="228.60" y="259.73" font-size="5.35" text-anchor="start" stroke="#000" stroke-width="0.12">LPS+POM-1</text>
<text x="351.00" y="247.80" font-size="11" text-anchor="start" font-weight="bold" stroke="#000" stroke-width="0.18">I</text>
<text x="370.40" y="290.30" font-size="6.5" text-anchor="middle" font-weight="bold" stroke="#000" stroke-width="0.18" transform="rotate(-90 370.40 290.30)">IL-10 produced (ng/mL)</text>
<line x1="385.30" y1="250.40" x2="385.30" y2="329.55" stroke="#000" stroke-width="1.4"/>
<line x1="384.60" y1="329.00" x2="416.40" y2="329.00" stroke="#000" stroke-width="1.7"/>
<line x1="382.60" y1="329.00" x2="385.30" y2="329.00" stroke="#000" stroke-width="1.15"/>
<text x="382.20" y="331.12" font-size="5.9" text-anchor="end" font-weight="bold" stroke="#000" stroke-width="0.18">0.0</text>
<line x1="382.60" y1="289.95" x2="385.30" y2="289.95" stroke="#000" stroke-width="1.15"/>
<text x="382.20" y="292.07" font-size="5.9" text-anchor="end" font-weight="bold" stroke="#000" stroke-width="0.18">0.5</text>
<line x1="382.60" y1="250.90" x2="385.30" y2="250.90" stroke="#000" stroke-width="1.15"/>
<text x="382.20" y="253.02" font-size="5.9" text-anchor="end" font-weight="bold" stroke="#000" stroke-width="0.18">1.0</text>
<line x1="385.40" y1="329.00" x2="385.40" y2="331.70" stroke="#000" stroke-width="1.15"/>
<text x="385.40" y="337.80" font-size="5.9" text-anchor="middle" font-weight="bold" stroke="#000" stroke-width="0.18">0</text>
<line x1="415.90" y1="326.60" x2="415.90" y2="331.80" stroke="#000" stroke-width="1.2"/>
<text x="415.90" y="337.80" font-size="5.9" text-anchor="middle" font-weight="bold" stroke="#000" stroke-width="0.18">5</text>
<line x1="419.20" y1="329.30" x2="425.20" y2="329.30" stroke="#000" stroke-width="1.1"/>
<line x1="445.00" y1="329.30" x2="449.20" y2="329.30" stroke="#000" stroke-width="1.1"/>
<rect x="425.20" y="325.50" width="19.80" height="10.30" fill="#fff" stroke="#000" stroke-width="1.1"/>
<text x="435.10" y="332.55" font-size="5.6" text-anchor="middle" font-weight="bold" stroke="#000" stroke-width="0.18">wash</text>
<line x1="453.60" y1="329.00" x2="513.00" y2="329.00" stroke="#000" stroke-width="1.7"/>
<line x1="455.00" y1="329.00" x2="455.00" y2="331.60" stroke="#000" stroke-width="1.15"/>
<text x="455.00" y="337.80" font-size="5.9" text-anchor="middle" font-weight="bold" stroke="#000" stroke-width="0.18">5.5</text>
<line x1="466.25" y1="329.00" x2="466.25" y2="331.60" stroke="#000" stroke-width="1.15"/>
<text x="466.25" y="337.80" font-size="5.9" text-anchor="middle" font-weight="bold" stroke="#000" stroke-width="0.18">6.0</text>
<line x1="477.50" y1="329.00" x2="477.50" y2="331.60" stroke="#000" stroke-width="1.15"/>
<text x="477.50" y="337.80" font-size="5.9" text-anchor="middle" font-weight="bold" stroke="#000" stroke-width="0.18">6.5</text>
<line x1="488.75" y1="329.00" x2="488.75" y2="331.60" stroke="#000" stroke-width="1.15"/>
<text x="488.75" y="337.80" font-size="5.9" text-anchor="middle" font-weight="bold" stroke="#000" stroke-width="0.18">7.0</text>
<line x1="500.00" y1="329.00" x2="500.00" y2="331.60" stroke="#000" stroke-width="1.15"/>
<text x="500.00" y="337.80" font-size="5.9" text-anchor="middle" font-weight="bold" stroke="#000" stroke-width="0.18">7.5</text>
<line x1="511.25" y1="329.00" x2="511.25" y2="331.60" stroke="#000" stroke-width="1.15"/>
<text x="511.25" y="337.80" font-size="5.9" text-anchor="middle" font-weight="bold" stroke="#000" stroke-width="0.18">8.0</text>
<text x="448.60" y="346.20" font-size="6.5" text-anchor="middle" font-weight="bold" stroke="#000" stroke-width="0.18">Time (hr.)</text>
<line x1="454.60" y1="328.10" x2="512.00" y2="328.10" stroke="#000" stroke-width="3.6"/>
<line x1="457.60" y1="327.90" x2="509.00" y2="327.90" stroke="#bbb" stroke-width="0.7" stroke-dasharray="1.4 1.6"/>
<circle cx="455.00" cy="328.10" r="2.5" fill="#000"/>
<circle cx="466.25" cy="328.10" r="2.5" fill="#000"/>
<circle cx="488.75" cy="328.10" r="2.5" fill="#000"/>
<circle cx="511.25" cy="328.10" r="2.5" fill="#000"/>
<polyline points="385.40,329.00 415.90,322.80" fill="none" stroke="#000" stroke-width="1.7" stroke-linejoin="round" stroke-dasharray="1.8 1.6"/>
<polyline points="385.40,329.00 415.90,290.20" fill="none" stroke="#000" stroke-width="2.0" stroke-linejoin="round"/>
<line x1="415.90" y1="287.60" x2="415.90" y2="292.80" stroke="#000" stroke-width="1.0"/>
<line x1="414.10" y1="287.60" x2="417.70" y2="287.60" stroke="#000" stroke-width="1.0"/>
<line x1="414.10" y1="292.80" x2="417.70" y2="292.80" stroke="#000" stroke-width="1.0"/>
<rect x="383.90" y="327.50" width="3.00" height="3.00" fill="#fff" stroke="#000" stroke-width="1.0"/>
<rect x="414.40" y="321.30" width="3.00" height="3.00" fill="#fff" stroke="#000" stroke-width="1.0"/>
<rect x="383.60" y="327.20" width="3.60" height="3.60" fill="#000"/>
<rect x="414.10" y="288.40" width="3.60" height="3.60" fill="#000"/>
<text x="415.90" y="285.73" font-size="6.4" text-anchor="middle" font-weight="bold" letter-spacing="0.3" stroke="#000" stroke-width="0.2">**</text>
<circle cx="385.30" cy="329.00" r="2.1" fill="#000"/>
<line x1="389.60" y1="251.50" x2="400.40" y2="251.50" stroke="#000" stroke-width="1.3"/>
<ellipse cx="395.00" cy="251.50" rx="2.1" ry="1.7" fill="#000"/>
<text x="402.00" y="253.43" font-size="5.35" text-anchor="start" stroke="#000" stroke-width="0.12">LPS</text>
<line x1="389.60" y1="257.70" x2="400.40" y2="257.70" stroke="#000" stroke-width="1.1" stroke-dasharray="1.6 1.4"/>
<ellipse cx="395.00" cy="257.70" rx="1.9" ry="1.6" fill="#fff" stroke="#000" stroke-width="1.1"/>
<text x="402.00" y="259.63" font-size="5.35" text-anchor="start" stroke="#000" stroke-width="0.12">LPS+POM-1</text>
</svg>
</body>
</html>
